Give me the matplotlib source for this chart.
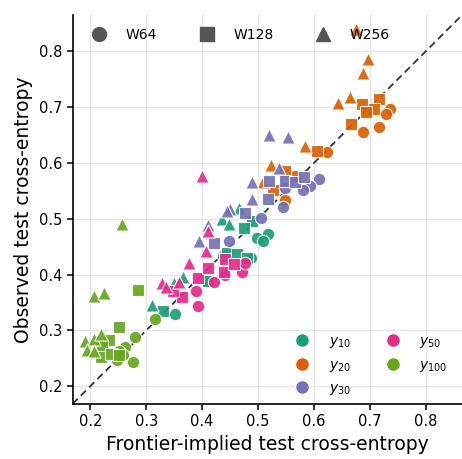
import numpy as np
import matplotlib
matplotlib.use("Agg")
import matplotlib.pyplot as plt
from matplotlib.lines import Line2D

# frontier-implied (x) vs observed (y) test cross-entropy, per target and width
groups = ["y10", "y20", "y30", "y50", "y100"]
group_labels = [r"$y_{10}$", r"$y_{20}$", r"$y_{30}$", r"$y_{50}$", r"$y_{100}$"]
group_colors = ["#1b9e77", "#d95f02", "#7570b3", "#e7298a", "#66a61e"]

widths = ["W64", "W128", "W256"]
width_markers = ["o", "s", "^"]

# y10
y10_w64_x = [0.352, 0.407, 0.499, 0.517, 0.508, 0.487, 0.437]
y10_w64_y = [0.329, 0.389, 0.466, 0.472, 0.460, 0.430, 0.433]
y10_w128_x = [0.330, 0.490, 0.475, 0.445, 0.463, 0.480, 0.410]
y10_w128_y = [0.335, 0.496, 0.484, 0.439, 0.436, 0.430, 0.389]
y10_w256_x = [0.310, 0.365, 0.436, 0.466, 0.448, 0.350]
y10_w256_y = [0.345, 0.396, 0.499, 0.520, 0.490, 0.385]

# y20
y20_w64_x = [0.736, 0.729, 0.687, 0.716, 0.624, 0.549, 0.567]
y20_w64_y = [0.696, 0.687, 0.655, 0.664, 0.620, 0.534, 0.576]
y20_w128_x = [0.686, 0.717, 0.708, 0.694, 0.667, 0.605, 0.548, 0.527]
y20_w128_y = [0.706, 0.714, 0.697, 0.692, 0.670, 0.622, 0.585, 0.552]
y20_w256_x = [0.675, 0.697, 0.688, 0.643, 0.664, 0.584, 0.524, 0.508]
y20_w256_y = [0.840, 0.787, 0.761, 0.707, 0.718, 0.630, 0.596, 0.565]

# y30
y30_w64_x = [0.609, 0.593, 0.580, 0.545, 0.548, 0.505, 0.448]
y30_w64_y = [0.571, 0.558, 0.551, 0.521, 0.556, 0.502, 0.460]
y30_w128_x = [0.520, 0.549, 0.566, 0.583, 0.518, 0.477, 0.421]
y30_w128_y = [0.567, 0.567, 0.565, 0.575, 0.535, 0.511, 0.457]
y30_w256_x = [0.520, 0.554, 0.538, 0.490, 0.489, 0.450, 0.411, 0.395, 0.445]
y30_w256_y = [0.650, 0.646, 0.591, 0.565, 0.536, 0.517, 0.488, 0.460, 0.514]

# y50
y50_w64_x = [0.393, 0.389, 0.421, 0.472, 0.476, 0.440]
y50_w64_y = [0.344, 0.371, 0.386, 0.404, 0.421, 0.400]
y50_w128_x = [0.364, 0.347, 0.392, 0.411, 0.439, 0.441, 0.457]
y50_w128_y = [0.359, 0.371, 0.393, 0.411, 0.405, 0.427, 0.418]
y50_w256_x = [0.328, 0.359, 0.377, 0.406, 0.411, 0.400, 0.335]
y50_w256_y = [0.384, 0.387, 0.421, 0.442, 0.478, 0.576, 0.377]

# y100
y100_w64_x = [0.315, 0.279, 0.261, 0.259, 0.247, 0.277, 0.252]
y100_w64_y = [0.320, 0.288, 0.270, 0.256, 0.246, 0.243, 0.262]
y100_w128_x = [0.286, 0.251, 0.234, 0.221, 0.219, 0.237, 0.251]
y100_w128_y = [0.372, 0.306, 0.283, 0.272, 0.253, 0.258, 0.255]
y100_w256_x = [0.207, 0.224, 0.256, 0.191, 0.206, 0.219, 0.193, 0.207]
y100_w256_y = [0.362, 0.366, 0.490, 0.281, 0.284, 0.293, 0.265, 0.262]

data = {
    "y10": [(y10_w64_x, y10_w64_y), (y10_w128_x, y10_w128_y), (y10_w256_x, y10_w256_y)],
    "y20": [(y20_w64_x, y20_w64_y), (y20_w128_x, y20_w128_y), (y20_w256_x, y20_w256_y)],
    "y30": [(y30_w64_x, y30_w64_y), (y30_w128_x, y30_w128_y), (y30_w256_x, y30_w256_y)],
    "y50": [(y50_w64_x, y50_w64_y), (y50_w128_x, y50_w128_y), (y50_w256_x, y50_w256_y)],
    "y100": [(y100_w64_x, y100_w64_y), (y100_w128_x, y100_w128_y), (y100_w256_x, y100_w256_y)],
}

lims = (0.168, 0.865)

fig = plt.figure(figsize=(4.62, 4.59), dpi=100)
ax = fig.add_axes([0.157, 0.12, 0.843, 0.847])

ax.grid(True, color="#e5e5e5", linewidth=1.0, zorder=0)
ax.set_axisbelow(True)

ax.plot(lims, lims, linestyle=(0, (4, 2.5)), color="#333333", linewidth=1.3, zorder=1)

for g, c in zip(groups, group_colors):
    for (xs, ys), m in zip(data[g], width_markers):
        ax.scatter(xs, ys, s=80 if m != "^" else 90, marker=m, color=c,
                   edgecolor="white", linewidth=0.8, alpha=0.92, zorder=3)

ax.set_xlim(lims)
ax.set_ylim(lims)
ax.set_xticks([0.2, 0.3, 0.4, 0.5, 0.6, 0.7, 0.8])
ax.set_yticks([0.2, 0.3, 0.4, 0.5, 0.6, 0.7, 0.8])
ax.tick_params(labelsize=10.5, width=1.1, length=4)
for side in ["top", "right"]:
    ax.spines[side].set_visible(False)
for side in ["left", "bottom"]:
    ax.spines[side].set_linewidth(1.2)

ax.set_xlabel("Frontier-implied test cross-entropy", fontsize=13.5)
ax.set_ylabel("Observed test cross-entropy", fontsize=13.5)

# legend for widths (marker shape)
w_handles = [Line2D([], [], linestyle="none", marker=m, markersize=10,
                    color="#555555", markeredgecolor="#555555")
             for m in width_markers]
leg1 = ax.legend(w_handles, widths, loc="upper left", bbox_to_anchor=(0.0, 1.0),
                 ncol=3, frameon=False, fontsize=10, handletextpad=0.9,
                 columnspacing=2.6)
ax.add_artist(leg1)

# legend for targets (colour)
g_handles = [Line2D([], [], linestyle="none", marker="o", markersize=10,
                    color=c, markeredgecolor="white") for c in group_colors]
ax.legend(g_handles, group_labels, loc="lower right", bbox_to_anchor=(0.995, -0.015),
          ncol=2, frameon=False, fontsize=10, handletextpad=0.9,
          columnspacing=2.0, labelspacing=0.55)

fig.savefig("out.png", dpi=100)
